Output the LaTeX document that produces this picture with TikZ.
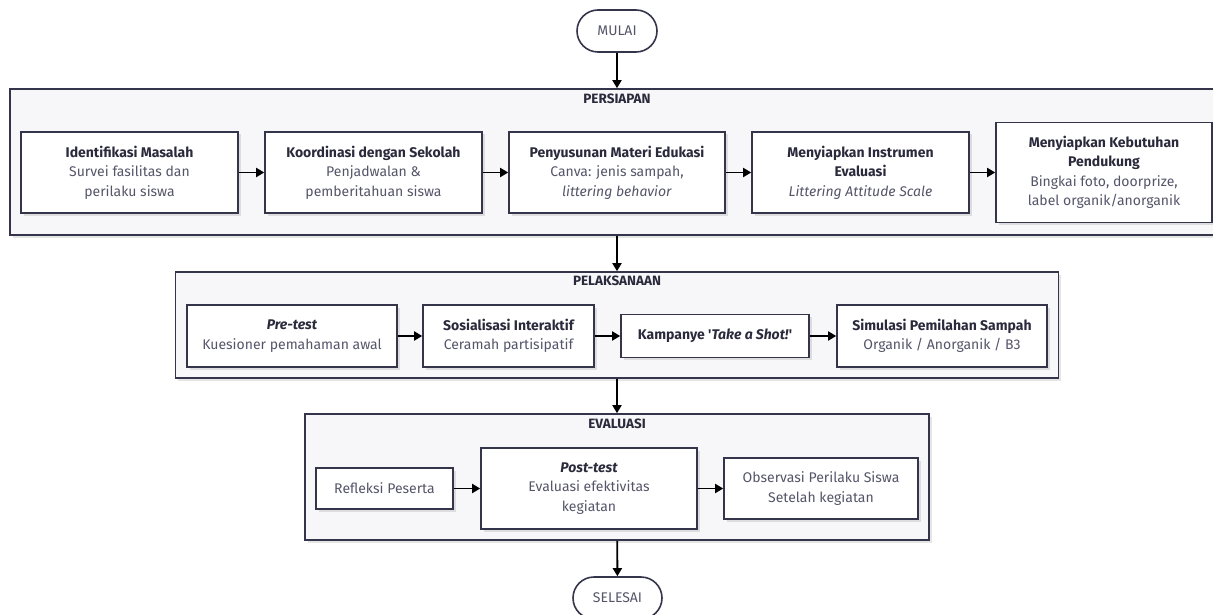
\documentclass[tikz,border=0pt]{standalone}
\usepackage{fontspec}
\setmainfont{Fira Sans}
\usetikzlibrary{arrows.meta,shadows}
\definecolor{edgecol}{HTML}{34344A}
\definecolor{panelcol}{HTML}{F7F7FA}
\definecolor{titlecol}{HTML}{2A2A3C}
\definecolor{bodycol}{HTML}{55556A}
\newcommand{\hd}[1]{\textcolor{titlecol}{\bfseries #1}}
\tikzset{
  softshadow/.style={drop shadow={shadow xshift=2.5pt,shadow yshift=-2.5pt,fill=black,opacity=0.10}},
  panel/.style={draw=edgecol, fill=panelcol, line width=1.6pt, softshadow},
  phase/.style={font=\bfseries\fontsize{13.5}{16}\selectfont, text=titlecol},
  stepbox/.style={draw=edgecol, fill=white, line width=1.6pt, align=center, inner sep=2pt,
    text=bodycol, font=\fontsize{14}{19.5}\selectfont, softshadow},
  terminal/.style={draw=edgecol, fill=white, line width=1.6pt, rounded corners=21pt,
    minimum width=80pt, minimum height=42pt, text=bodycol, font=\fontsize{14}{16}\selectfont},
  flow/.style={draw=black, line width=1.8pt, -{Triangle[length=8pt,width=9pt]}}
}
\begin{document}
\begin{tikzpicture}[x=1pt,y=-1pt]
  \useasboundingbox (0,0) rectangle (1213,615);
  % start
  \node[terminal] (start) at (617,31) {MULAI};
  % persiapan
  \node[panel, minimum width=1214pt, minimum height=146pt] (prep) at (617,162) {};
  \node[phase] (prepl) at (617,99) {PERSIAPAN};
  \node[stepbox, minimum width=217pt, minimum height=81pt] (a1) at (129.5,172.5)
    {\hd{Identifikasi Masalah}\\Survei fasilitas dan\\perilaku siswa};
  \node[stepbox, minimum width=217pt, minimum height=81pt] (a2) at (373.5,172.5)
    {\hd{Koordinasi dengan Sekolah}\\Penjadwalan \&\\pemberitahuan siswa};
  \node[stepbox, minimum width=216pt, minimum height=81pt] (a3) at (617,172.5)
    {\hd{Penyusunan Materi Edukasi}\\Canva: jenis sampah,\\\textit{littering behavior}};
  \node[stepbox, minimum width=217pt, minimum height=81pt] (a4) at (860.5,172.5)
    {\hd{Menyiapkan Instrumen}\\\hd{Evaluasi}\\\textit{Littering Attitude Scale}};
  \node[stepbox, minimum width=216pt, minimum height=100pt] (a5) at (1104,172.5)
    {\hd{Menyiapkan Kebutuhan}\\\hd{Pendukung}\\Bingkai foto, doorprize,\\label organik/anorganik};
  % pelaksanaan
  \node[panel, minimum width=883pt, minimum height=106pt] (exec) at (617,325) {};
  \node[phase] (execl) at (617,281) {PELAKSANAAN};
  \node[stepbox, minimum width=210pt, minimum height=62pt] (b1) at (292,336)
    {\hd{\itshape Pre-test}\\Kuesioner pemahaman awal};
  \node[stepbox, minimum width=171pt, minimum height=62pt] (b2) at (508.5,336)
    {\hd{Sosialisasi Interaktif}\\Ceramah partisipatif};
  \node[stepbox, minimum width=188pt, minimum height=43pt] (b3) at (715,336)
    {\hd{Kampanye \textquotesingle\textit{Take a Shot!}\textquotesingle}};
  \node[stepbox, minimum width=210pt, minimum height=62pt] (b4) at (942,336)
    {\hd{Simulasi Pemilahan Sampah}\\Organik / Anorganik / B3};
  % evaluasi
  \node[panel, minimum width=624pt, minimum height=126pt] (eval) at (617,477) {};
  \node[phase] (evall) at (617,424) {EVALUASI};
  \node[stepbox, minimum width=137pt, minimum height=41pt] (c1) at (384.5,488.5)
    {Refleksi Peserta};
  \node[stepbox, minimum width=216pt, minimum height=81pt] (c2) at (589,488.5)
    {\hd{\itshape Post-test}\\Evaluasi efektivitas\\kegiatan};
  \node[stepbox, minimum width=194pt, minimum height=61pt] (c3) at (821,488.5)
    {Observasi Perilaku Siswa\\Setelah kegiatan};
  % end
  \node[terminal, minimum width=89pt] (stop) at (617.5,598) {SELESAI};
  % connectors
  \draw[flow] (start) -- (prep);
  \draw[flow] (a1) -- (a2);
  \draw[flow] (a2) -- (a3);
  \draw[flow] (a3) -- (a4);
  \draw[flow] (a4) -- (a5);
  \draw[flow] (prep) -- (exec);
  \draw[flow] (b1) -- (b2);
  \draw[flow] (b2) -- (b3);
  \draw[flow] (b3) -- (b4);
  \draw[flow] (exec) -- (eval);
  \draw[flow] (c1) -- (c2);
  \draw[flow] (c2) -- (c3);
  \draw[flow] (eval) -- (stop);
\end{tikzpicture}
\end{document}
